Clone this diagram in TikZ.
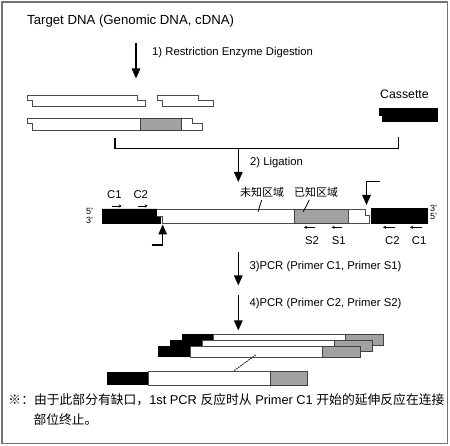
\documentclass[tikz,border=0pt]{standalone}
\usepackage{fontspec}
\setmainfont{Liberation Sans}
\newfontfamily\cjk{Noto Sans CJK SC}
\usetikzlibrary{arrows.meta}
\begin{document}
\begin{tikzpicture}[x=1pt,y=-1pt,
  bigarrow/.style={line width=1.3pt,-{Triangle[width=8.5pt,length=10pt]}},
  primer/.style={line width=0.6pt,-{Stealth[width=3.2pt,length=3pt]}},
  strand/.style={draw=black!70,line width=0.6pt,fill=white},
  known/.style={draw=black!75,line width=0.6pt,fill=black!37},
  cass/.style={fill=black,draw=black,line width=0.5pt},
  txt/.style={inner sep=0pt,anchor=base west},
  big/.style={font=\fontsize{13.2}{15}\selectfont},
  mid/.style={font=\fontsize{11.3}{13}\selectfont},
  sml/.style={font=\fontsize{9}{10}\selectfont},
  note/.style={font=\fontsize{12.8}{15}\selectfont},
]
\useasboundingbox (0,0) rectangle (450,446);
\draw[black!55,line width=1.4pt] (2,2) rectangle (447.5,443.5);

% titles
\node[txt,big] (title) at (27,24.3) {Target DNA (Genomic DNA, cDNA)};
\node[txt,mid] (step1) at (152,56) {1) Restriction Enzyme Digestion};
\node[txt,font=\fontsize{12.3}{14}\selectfont] (cassette) at (380,98.3) {Cassette};

% arrow 1
\coordinate (a1s) at (136,43);
\coordinate (a1e) at (136,78.5);
\draw[bigarrow] (a1s) -- (a1e);

% fragments
\draw[strand] (27,95)--(137,95)--(137,100)--(145,100)--(145,106)--(32,106)--(32,100)--(27,100)--cycle;
\draw[strand] (157,95)--(198,95)--(198,100)--(213,100)--(213,106)--(162,106)--(162,100)--(157,100)--cycle;
\draw[strand] (27,118.3)--(192,118.3)--(192,123)--(202,123)--(202,130.5)--(32,130.5)--(32,123)--(27,123)--cycle;
\draw[known] (140,118.3) rectangle (181.7,130.5);

% cassette block
\draw[cass] (379,108.3)--(437,108.3)--(437,121.7)--(382,121.7)--(382,115)--(379,115)--cycle;

% bracket
\coordinate (bl) at (115,138.3);
\coordinate (br) at (398.3,136.7);
\draw[line width=1.3pt] (bl) -- (115,148.3) -- (398.3,148.3) -- (br);
\coordinate (a2s) at (238.3,148.3);
\coordinate (a2e) at (238.3,182);
\draw[bigarrow] (a2s) -- (a2e);
\node[txt,mid] (step2) at (250,165.7) {2) Ligation};

% ligated construct
\draw[cass] (102,209)--(157,209)--(157,216)--(160,216)--(160,223.3)--(102,223.3)--cycle;
\draw[strand] (157,209)--(294.3,209)--(294.3,223.3)--(162.3,223.3)--(162.3,216)--(157,216);
\draw[known] (294.3,209) rectangle (348.3,223.3);
\draw[strand] (348.3,209)--(365,209)--(365,215.5)--(369.5,215.5)--(369.5,223.3)--(348.3,223.3)--cycle;
\draw[cass] (371.5,208.5) rectangle (427.5,223.3);

% ends labels
\node[txt,sml] (l5) at (86,215) {5’};
\node[txt,sml] (l3) at (86,223.3) {3’};
\node[txt,sml] (r3) at (430,211.7) {3’};
\node[txt,sml] (r5) at (430,220) {5’};

% region labels
\node[txt,font=\cjk\fontsize{11}{13}\selectfont] (unk) at (240,196.8) {未知区域};
\node[txt,font=\cjk\fontsize{11}{13}\selectfont] (kno) at (294,196.8) {已知区域};
\draw[line width=0.8pt] (258,211.7) -- (261.7,200);
\draw[line width=0.8pt] (303.3,211.7) -- (309.3,200);

% primer labels
\node[txt,mid] (c1a) at (107,198.3) {C1};
\node[txt,mid] (c2a) at (133.3,198.3) {C2};
\node[txt,mid] (s2) at (305,245) {S2};
\node[txt,mid] (s1) at (331.7,245) {S1};
\node[txt,mid] (c2b) at (385,245) {C2};
\node[txt,mid] (c1b) at (411.7,245) {C1};
\draw[primer] (111.7,206) -- (121.7,206);
\draw[primer] (137.7,206) -- (147.7,206);
\draw[primer] (315,227.3) -- (304,227.3);
\draw[primer] (341.7,227.3) -- (331.7,227.3);
\draw[primer] (395,227.3) -- (383,227.3);
\draw[primer] (421.7,227.3) -- (410,227.3);

% nick arrows
\coordinate (n1) at (151.7,245);
\coordinate (n1t) at (162.7,224.5);
\draw[bigarrow] (n1) -- (162.7,245) -- (n1t);
\coordinate (n2) at (380,181.7);
\coordinate (n2t) at (366.5,205);
\draw[bigarrow] (n2) -- (366.5,181.7) -- (n2t);

% arrows 3 and 4
\coordinate (a3s) at (238.3,251.7);
\coordinate (a3e) at (238.3,285.5);
\draw[bigarrow] (a3s) -- (a3e);
\node[txt,mid] (step3) at (249.3,269.5) {3)PCR (Primer C1, Primer S1)};
\coordinate (a4s) at (238.3,295);
\coordinate (a4e) at (238.3,330.5);
\draw[bigarrow] (a4s) -- (a4e);
\node[txt,mid] (step4) at (249.3,307) {4)PCR (Primer C2, Primer S2)};

% PCR products
\foreach \x/\y in {181.7/334, 170/340, 158.3/346}{
  \fill[black] (\x,\y) rectangle (\x+32,\y+11.5);
  \draw[strand] (\x+32,\y) rectangle (\x+164,\y+11.5);
  \draw[known] (\x+164,\y) rectangle (\x+202,\y+11.5);
}
\coordinate (d1) at (255.7,355);
\coordinate (d2) at (232.7,371.7);
\draw[line width=0.8pt,dash pattern=on 1.5pt off 1pt] (d1) -- (d2);
\fill[black] (107.3,371.7) rectangle (148.3,385);
\draw[strand] (148.3,371.7) rectangle (270.7,385);
\draw[known] (270.7,371.7) rectangle (307.7,385);

% footnote
\node[txt,note] (fn1) at (8.3,405) {{\cjk ※：由于此部分有缺口，}1st PCR {\cjk 反应时从} Primer C1 {\cjk 开始的延伸反应在连接}};
\node[txt,note] (fn2) at (33.3,424.5) {{\cjk 部位终止。}};
\end{tikzpicture}
\end{document}
